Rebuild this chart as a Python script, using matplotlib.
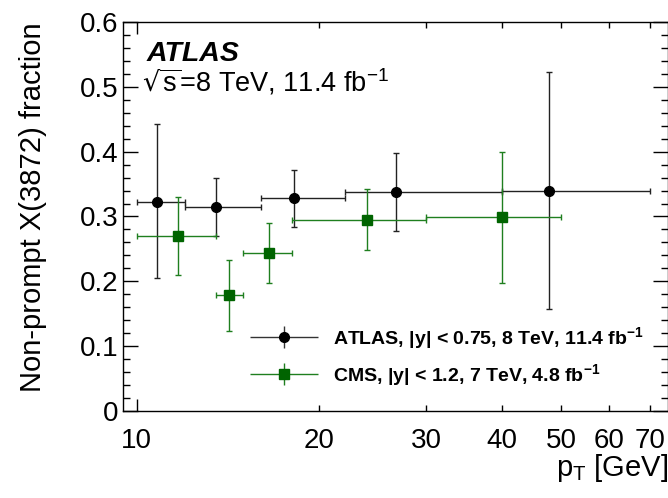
import numpy as np
import matplotlib
matplotlib.use("Agg")
import matplotlib.pyplot as plt
from matplotlib.lines import Line2D
from matplotlib.collections import LineCollection
from matplotlib.container import ErrorbarContainer
from matplotlib.legend_handler import HandlerErrorbar
from matplotlib.ticker import FixedLocator, MultipleLocator

plt.rcParams['font.family'] = ['Liberation Sans', 'DejaVu Sans']
plt.rcParams['mathtext.default'] = 'regular'

# ATLAS: bin centres, bin edges, fraction and error bounds
atlas_pt = [10.8, 13.5, 18.2, 26.7, 47.7]
atlas_lo = [10, 12, 16, 22, 40]
atlas_hi = [12, 16, 22, 40, 70]
atlas_frac = [0.322, 0.315, 0.329, 0.338, 0.340]
atlas_up = [0.443, 0.360, 0.371, 0.398, 0.523]
atlas_dn = [0.205, 0.270, 0.284, 0.277, 0.158]

# CMS
cms_pt = [11.7, 14.2, 16.5, 24.0, 40.0]
cms_lo = [10, 13.5, 15, 18, 30]
cms_hi = [13.5, 15, 18, 30, 50]
cms_frac = [0.270, 0.179, 0.243, 0.295, 0.299]
cms_up = [0.330, 0.233, 0.290, 0.342, 0.400]
cms_dn = [0.210, 0.124, 0.197, 0.248, 0.198]

x_ticks = [10, 20, 30, 40, 50, 60, 70]

green = '#006400'
green_line = '#1f7f1f'


def errs(c, lo, hi):
    c = np.array(c)
    return [c - np.array(lo), np.array(hi) - c]


fig = plt.figure(figsize=(6.68, 4.98), dpi=100)
ax = fig.add_axes([123 / 668, 87 / 498, 545 / 668, 389 / 498])

ax.errorbar(atlas_pt, atlas_frac, xerr=errs(atlas_pt, atlas_lo, atlas_hi),
            yerr=errs(atlas_frac, atlas_dn, atlas_up), fmt='o', color='black',
            ms=7, elinewidth=1.0, ecolor='#222222', capsize=2.2, capthick=1.0, zorder=3)
ax.errorbar(cms_pt, cms_frac, xerr=errs(cms_pt, cms_lo, cms_hi),
            yerr=errs(cms_frac, cms_dn, cms_up), fmt='s', color=green,
            ms=6.7, elinewidth=1.0, ecolor=green_line, capsize=2.2, capthick=1.0, zorder=3)

ax.set_xscale('log')
ax.set_xlim(9.5, 75)
ax.set_ylim(0, 0.6)

ax.xaxis.set_major_locator(FixedLocator([10]))
ax.xaxis.set_minor_locator(FixedLocator(x_ticks[1:]))
ax.xaxis.set_major_formatter(plt.FuncFormatter(lambda v, p: '%d' % v))
ax.xaxis.set_minor_formatter(plt.FuncFormatter(lambda v, p: '%d' % v))
ax.yaxis.set_major_locator(MultipleLocator(0.1))
ax.yaxis.set_minor_locator(MultipleLocator(0.02))
ax.yaxis.set_major_formatter(plt.FuncFormatter(lambda v, p: '0' if abs(v) < 1e-9 else '%.1f' % v))

ax.tick_params(axis='both', which='both', direction='in', top=True, right=True,
               labelsize=20, width=1.0, color='black')
ax.tick_params(axis='y', which='major', length=10.8, pad=3)
ax.tick_params(axis='y', which='minor', length=5.2)
ax.tick_params(axis='x', which='major', length=8.6, pad=12)
ax.tick_params(axis='x', which='minor', length=4.3, pad=12, labelsize=20)
for s in ax.spines.values():
    s.set_linewidth(1.0)

ax.set_ylabel('Non-prompt X(3872) fraction', fontsize=21, loc='top')
ax.yaxis.set_label_coords(-0.14, 1.0)
ax.set_xlabel(r'p$_{T}$ [GeV]', fontsize=21, loc='right')
ax.xaxis.set_label_coords(1.0, -0.105)

ax.text(0.044, 0.9005, 'ATLAS', transform=ax.transAxes, fontsize=20.5,
        fontweight='bold', fontstyle='italic', va='baseline')
ax.text(0.035, 0.821, r'$\sqrt{s}$=8 TeV, 11.4 fb$^{-1}$', transform=ax.transAxes,
        fontsize=19.5, va='baseline')


# legend proxies without caps
def proxy(color, lcolor, marker, ms, label):
    line = Line2D([], [], color=color, marker=marker, ms=ms, linestyle='none')
    bars = (LineCollection([], colors=lcolor, linewidths=1.0),
            LineCollection([], colors=lcolor, linewidths=1.0))
    return ErrorbarContainer((line, (), bars), has_xerr=True, has_yerr=True, label=label)


h1 = proxy('black', '#333333', 'o', 7, r'ATLAS, |y| < 0.75, 8 TeV, 11.4 fb$^{-1}$')
h2 = proxy(green, green_line, 's', 6.7, r'CMS, |y| < 1.2, 7 TeV, 4.8 fb$^{-1}$')
leg = ax.legend(handles=[h1, h2], loc='upper left', bbox_to_anchor=(0.233, 0.222),
                frameon=False, prop={'weight': 'bold', 'size': 14},
                handlelength=3.5, handletextpad=0.77, labelspacing=0.6,
                borderaxespad=0, borderpad=0,
                handler_map={ErrorbarContainer: HandlerErrorbar(xerr_size=1.75, yerr_size=0.57)})

fig.savefig('out.png', dpi=100)
